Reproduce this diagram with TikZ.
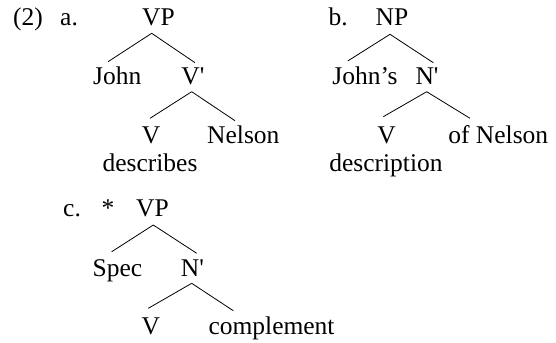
\documentclass[tikz,border=0pt]{standalone}
\usepackage{fontspec}
\setmainfont{Liberation Serif}
\usetikzlibrary{calc}
\tikzset{
  lbl/.style={inner sep=0pt, anchor=base, font=\fontsize{25.5bp}{30bp}\selectfont},
  lblw/.style={lbl, anchor=base west},
  branch/.style={line width=0.8bp, black}
}
\begin{document}
\begin{tikzpicture}[x=1bp, y=-1bp]
\useasboundingbox (0,0) rectangle (556,342);
% tree a
\node[lblw] (num) at (13,25) {(2)};
\node[lblw] (la) at (60,25) {a.};
\node[lbl] (VPa) at (158.5,25) {VP};
\node[lbl] (John) at (117.3,84) {John};
\node[lbl] (Vba) at (193,84) {V\textquotesingle};
\node[lbl] (Va) at (151,143) {V};
\node[lbl] (Nelson) at (243.3,143) {Nelson};
\node[lbl] (describes) at (150,171.7) {describes};
\draw[branch] ($(VPa.base)+(-6.8,8.3)$) -- ($(John.base)+(-9.3,-22.3)$);
\draw[branch] ($(VPa.base)+(-6.8,8.3)$) -- ($(Vba.base)+(2,-21.3)$);
\draw[branch] ($(Vba.base)+(-1.3,7.7)$) -- ($(Va.base)+(-1,-24.7)$);
\draw[branch] ($(Vba.base)+(-1.3,7.7)$) -- ($(Nelson.base)+(-8.3,-22.3)$);
% tree b
\node[lblw] (lb) at (328.3,25) {b.};
\node[lbl] (NP) at (392,25) {NP};
\node[lbl] (Johns) at (365,84) {John’s};
\node[lbl] (Nbb) at (427,84) {N\textquotesingle};
\node[lbl] (Vb) at (386.5,143) {V};
\node[lbl] (ofN) at (498.3,143) {of Nelson};
\node[lbl] (descr) at (386,171.7) {description};
\draw[branch] ($(NP.base)+(-2,9.3)$) -- ($(Johns.base)+(-17.3,-23)$);
\draw[branch] ($(NP.base)+(-2,9.3)$) -- ($(Nbb.base)+(6.3,-21.3)$);
\draw[branch] ($(Nbb.base)+(-0.3,7.7)$) -- ($(Vb.base)+(-3.2,-26.3)$);
\draw[branch] ($(Nbb.base)+(-0.3,7.7)$) -- ($(ofN.base)+(-28.3,-24.7)$);
% tree c
\node[lblw] (lc) at (63,216.7) {c.};
\node[lblw] (star) at (101.5,216.7) {*};
\node[lbl] (VPc) at (152.5,216.7) {VP};
\node[lbl] (Spec) at (117.5,276) {Spec};
\node[lbl] (Nbc) at (192.5,276) {N\textquotesingle};
\node[lbl] (Vc) at (150.8,334) {V};
\node[lblw] (compl) at (208.3,334) {complement};
\draw[branch] ($(VPc.base)+(0.8,8.3)$) -- ($(Spec.base)+(-5.8,-24.3)$);
\draw[branch] ($(VPc.base)+(0.8,8.3)$) -- ($(Nbc.base)+(4.2,-22.7)$);
\draw[branch] ($(Nbc.base)+(-0.8,7.3)$) -- ($(Vc.base)+(-2.5,-25.7)$);
\draw[branch] ($(Nbc.base)+(-0.8,7.3)$) -- ($(compl.base west)+(25,-23.3)$);
\end{tikzpicture}
\end{document}
